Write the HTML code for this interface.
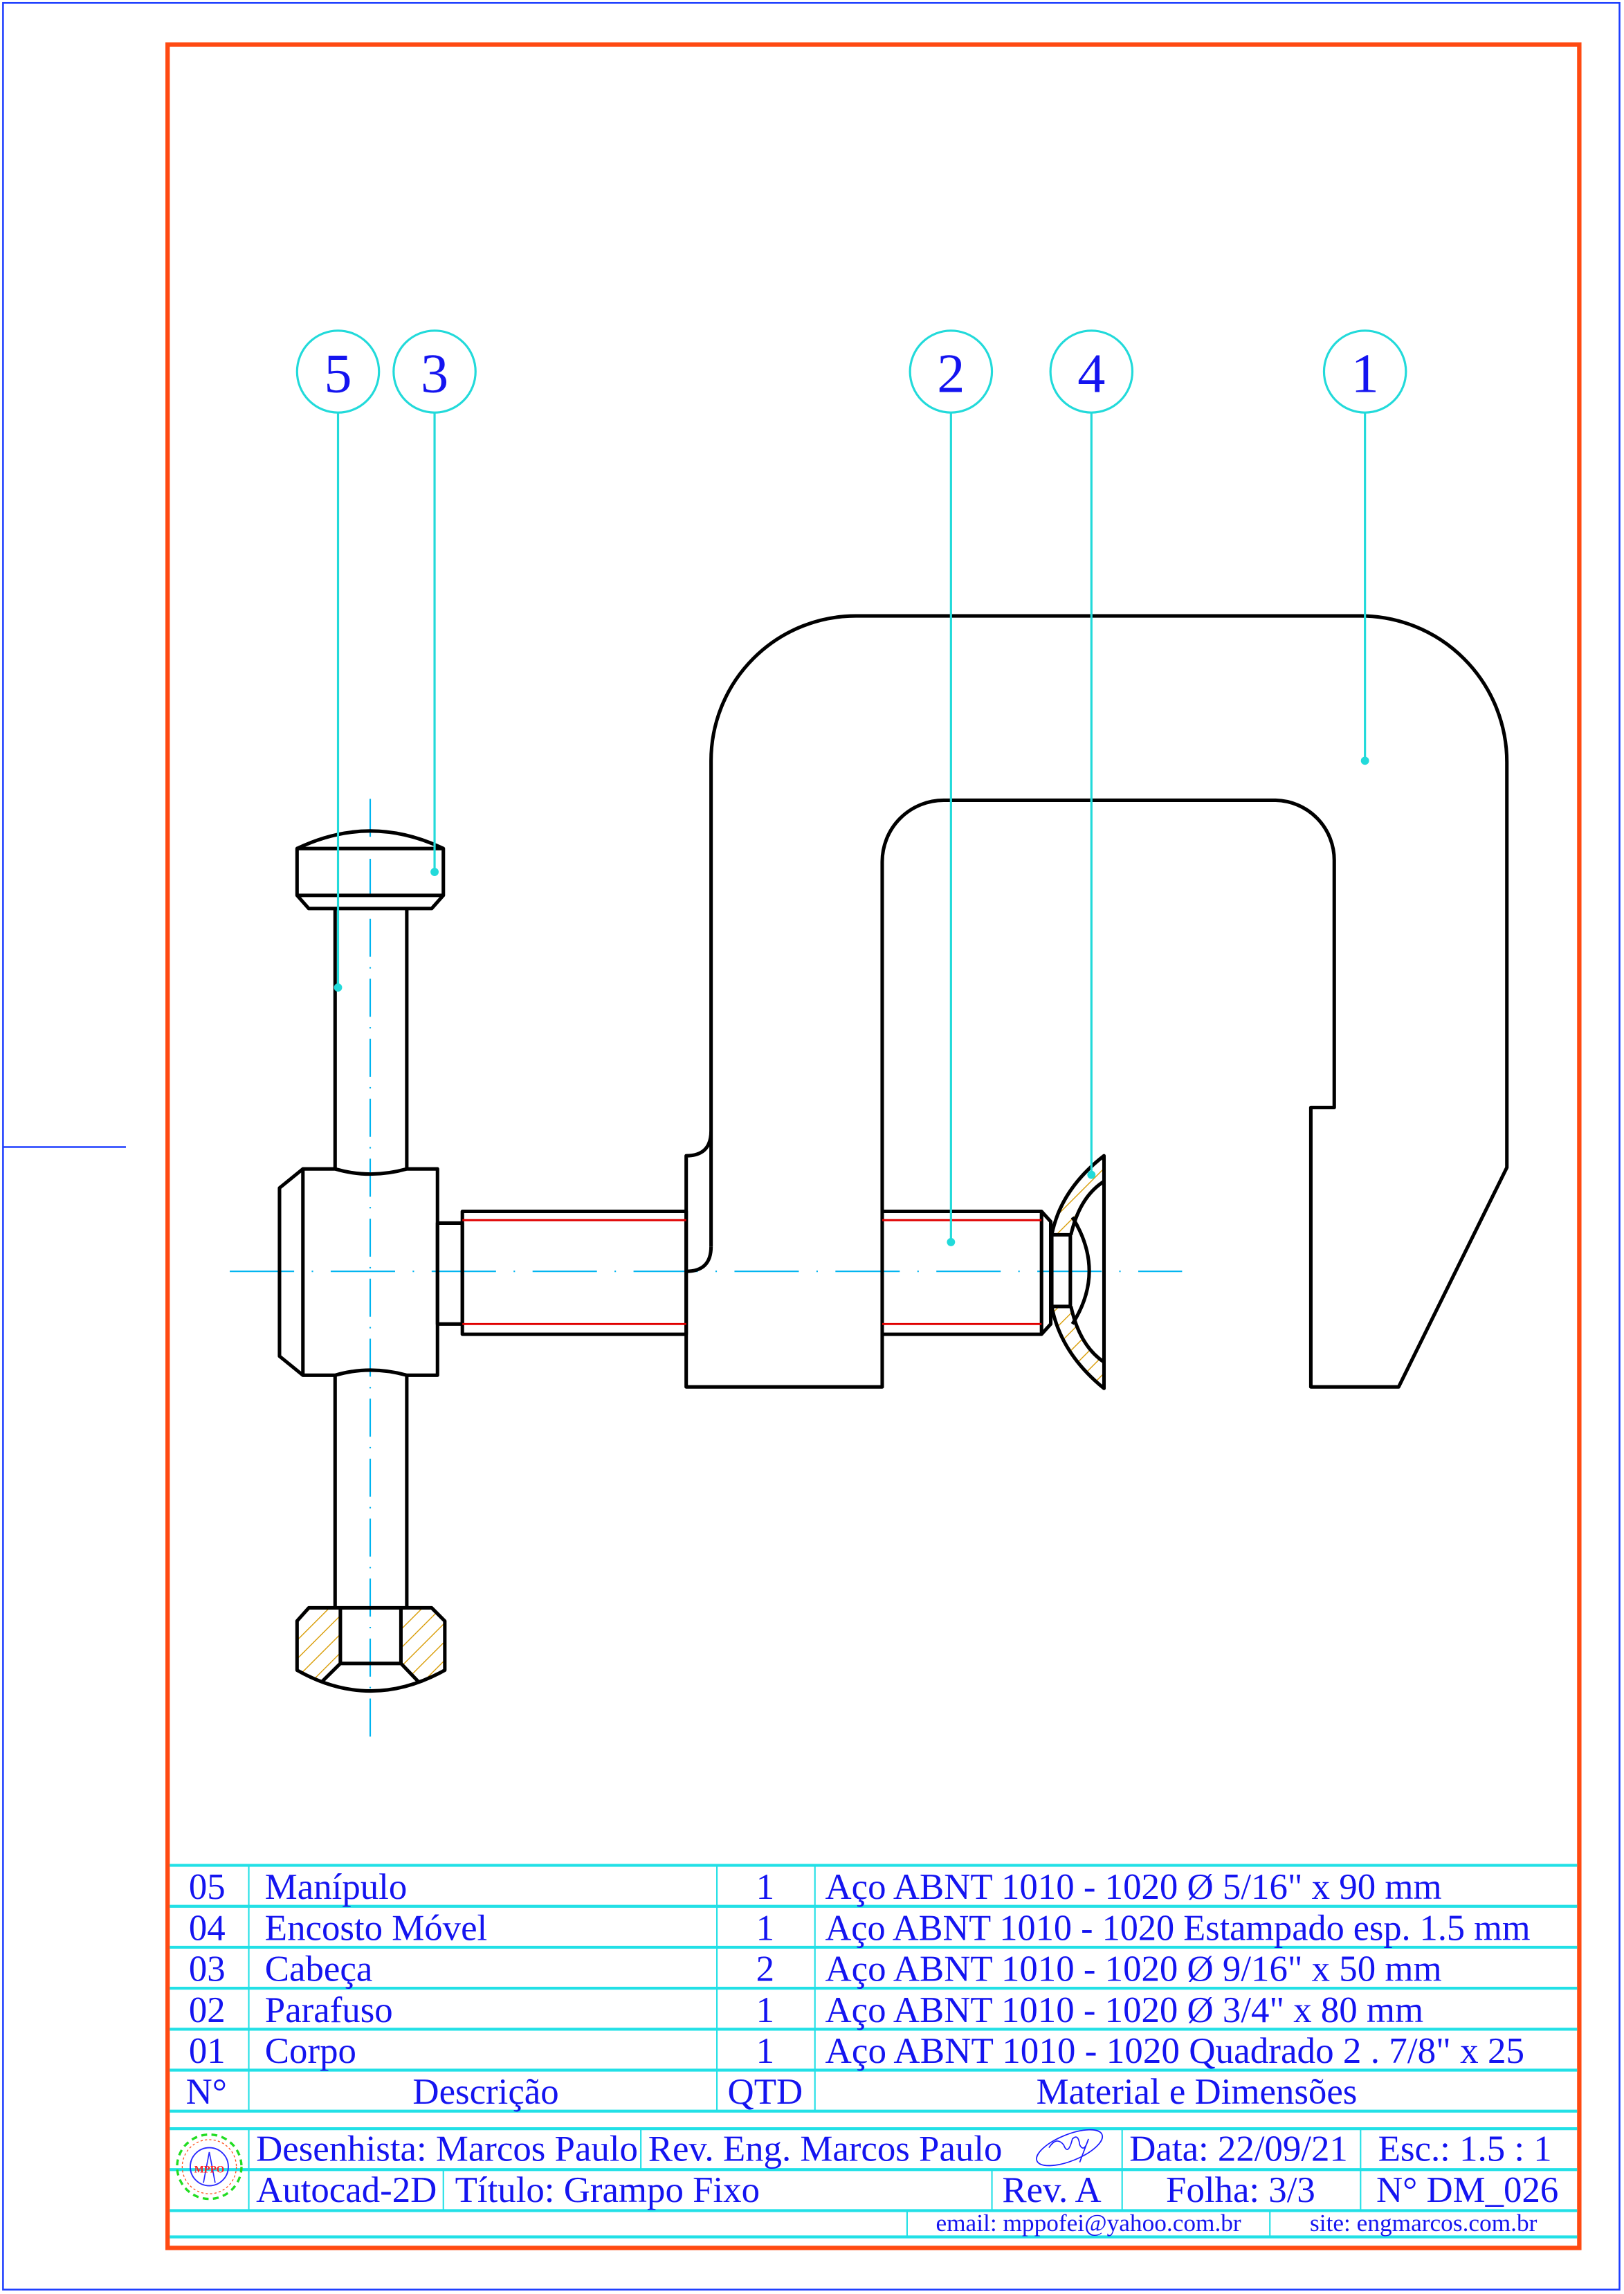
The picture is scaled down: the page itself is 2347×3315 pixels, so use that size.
<!DOCTYPE html>
<html><head><meta charset="utf-8"><style>
html,body{margin:0;padding:0;background:#fff;}
svg{display:block;}
text{font-family:"Liberation Serif",serif;fill:#1414f0;}
</style></head><body>
<svg width="2347" height="3315" viewBox="0 0 1110 1568" xmlns="http://www.w3.org/2000/svg">
<defs>
<pattern id="h" patternUnits="userSpaceOnUse" width="9" height="9" patternTransform="rotate(45)">
<line x1="0" y1="0" x2="0" y2="9" stroke="#d89a00" stroke-width="1.3"/>
</pattern>
</defs>
<rect x="0" y="0" width="1110" height="1568" fill="#fff"/>
<rect x="2" y="2" width="1105" height="1563" fill="none" stroke="#1f3fff" stroke-width="1.2"/>
<line x1="2" y1="784" x2="86" y2="784" stroke="#1f3fff" stroke-width="1.2"/>
<rect x="114.5" y="30.5" width="965" height="1506" fill="none" stroke="#ff4a12" stroke-width="3"/>

<g stroke="#00b4f0" stroke-width="1" fill="none">
<line x1="253" y1="546" x2="253" y2="1190" stroke-dasharray="26 7 1 7"/>
<line x1="157" y1="869" x2="808" y2="869" stroke-dasharray="44 12 1 12"/>
</g>

<g fill="url(#h)" stroke="none">
<path d="M203 1108 L211 1099 L232.6 1099 L232.6 1137 L220 1149.5 Q211 1146 203 1141.6 Z"/>
<path d="M274 1099 L295 1099 L304 1108 L304 1141.6 Q296 1146 286 1149.5 L274 1137 Z"/>
<path d="M718.9 844 Q725 813 754.6 790 L754.6 807.5 Q738 818 732 844 Z"/>
<path d="M718.9 893 L732 893 Q738 920 754.6 931 L754.6 949 Q725 925 718.9 893 Z"/>
</g>

<g stroke="#000" stroke-width="2.4" fill="none" stroke-linejoin="round">
<path d="M486 852 L486 520 A99 99 0 0 1 585 421 L930 421 A100 100 0 0 1 1030 521 L1030 798 L956 948 L896 948 L896 757 L912 757 L912 588 A41 41 0 0 0 872 547 L645 547 A42 42 0 0 0 603 589 L603 948 L469 948 L469 790 Q486 790 486 773"/>
<path d="M486 852 Q486 869 469 869"/>
<path d="M203 580 Q253 556 303 580"/>
<rect x="203" y="580" width="100" height="32"/>
<path d="M203 612 L211 621 L295 621 L303 612"/>
<line x1="229" y1="621" x2="229" y2="800"/>
<line x1="278" y1="621" x2="278" y2="800"/>
<line x1="229" y1="940" x2="229" y2="1099"/>
<line x1="278" y1="940" x2="278" y2="1099"/>
<path d="M207 799 L229 799 Q253 806 278 799 L299 799 L299 940 L278 940 Q253 933 229 940 L207 940 Z"/>
<path d="M207 799 L191 812 L191 927 L207 940"/>
<rect x="299" y="836" width="17" height="69"/>
<rect x="316" y="828" width="153" height="84"/>
<path d="M603 828 L711.9 828 L718.2 835 L718.2 905 L711.9 912 L603 912"/>
<line x1="711.9" y1="828" x2="711.9" y2="912"/>
<rect x="718.9" y="844" width="12.7" height="49"/>
<path d="M718.9 844 Q725 813 754.6 790 L754.6 949 Q725 925 718.9 893"/>
<path d="M732 844 Q738 818 754.6 807.5"/>
<path d="M732 893 Q738 920 754.6 931"/>
<path d="M733 832 Q756 869 733 905"/>
<path d="M211 1099 L295 1099 L304 1108 L304 1141.6 Q253 1170 203 1141.6 L203 1108 Z"/>
<path d="M232.6 1099 L232.6 1137 L274 1137 L274 1099"/>
<line x1="232.6" y1="1137" x2="220" y2="1149.5"/>
<line x1="274" y1="1137" x2="286" y2="1149.5"/>
</g>
<g stroke="#e00000" stroke-width="1.4">
<line x1="316" y1="834" x2="469" y2="834"/>
<line x1="316" y1="905" x2="469" y2="905"/>
<line x1="603" y1="834" x2="711.9" y2="834"/>
<line x1="603" y1="905" x2="711.9" y2="905"/>
</g>

<g stroke="#22dada" stroke-width="1.5" fill="none">
<circle cx="231" cy="254" r="28"/>
<circle cx="297" cy="254" r="28"/>
<circle cx="650" cy="254" r="28"/>
<circle cx="746" cy="254" r="28"/>
<circle cx="933" cy="254" r="28"/>
<line x1="231" y1="282" x2="231" y2="675"/>
<line x1="297" y1="282" x2="297" y2="596"/>
<line x1="650" y1="282" x2="650" y2="849"/>
<line x1="746" y1="282" x2="746" y2="803"/>
<line x1="933" y1="282" x2="933" y2="520"/>
</g>
<g fill="#22dada">
<circle cx="231" cy="675" r="2.8"/>
<circle cx="297" cy="596" r="2.8"/>
<circle cx="650" cy="849" r="2.8"/>
<circle cx="746" cy="803" r="2.8"/>
<circle cx="933" cy="520" r="2.8"/>
</g>
<g font-size="38" text-anchor="middle">
<text x="231" y="268">5</text>
<text x="297" y="268">3</text>
<text x="650" y="268">2</text>
<text x="746" y="268">4</text>
<text x="933" y="268">1</text>
</g>

<g stroke="#22e0e6" fill="none">
<g stroke-width="2">
<line x1="116" y1="1275" x2="1078" y2="1275"/>
<line x1="116" y1="1303" x2="1078" y2="1303"/>
<line x1="116" y1="1331" x2="1078" y2="1331"/>
<line x1="116" y1="1359" x2="1078" y2="1359"/>
<line x1="116" y1="1387" x2="1078" y2="1387"/>
<line x1="116" y1="1415" x2="1078" y2="1415"/>
<line x1="116" y1="1443" x2="1078" y2="1443"/>
<line x1="116" y1="1455" x2="1078" y2="1455"/>
<line x1="116" y1="1483" x2="1078" y2="1483"/>
<line x1="116" y1="1511" x2="1078" y2="1511"/>
<line x1="116" y1="1529" x2="1078" y2="1529"/>
</g>
<g stroke-width="1">
<line x1="170" y1="1275" x2="170" y2="1443"/>
<line x1="490" y1="1275" x2="490" y2="1443"/>
<line x1="557" y1="1275" x2="557" y2="1443"/>
<line x1="170" y1="1455" x2="170" y2="1511"/>
<line x1="438" y1="1455" x2="438" y2="1483"/>
<line x1="767" y1="1455" x2="767" y2="1511"/>
<line x1="930" y1="1455" x2="930" y2="1511"/>
<line x1="303" y1="1483" x2="303" y2="1511"/>
<line x1="678" y1="1483" x2="678" y2="1511"/>
<line x1="620" y1="1511" x2="620" y2="1529"/>
<line x1="868" y1="1511" x2="868" y2="1529"/>
</g>
</g>
<g font-size="25">
<text x="129" y="1298">05</text><text x="181" y="1298">Manípulo</text><text x="523" y="1298" text-anchor="middle">1</text><text x="564" y="1298">Aço ABNT 1010 - 1020  Ø 5/16" x 90 mm</text>
<text x="129" y="1326">04</text><text x="181" y="1326">Encosto Móvel</text><text x="523" y="1326" text-anchor="middle">1</text><text x="564" y="1326" textLength="482" lengthAdjust="spacingAndGlyphs">Aço ABNT 1010 - 1020 Estampado esp. 1.5 mm</text>
<text x="129" y="1354">03</text><text x="181" y="1354">Cabeça</text><text x="523" y="1354" text-anchor="middle">2</text><text x="564" y="1354">Aço ABNT 1010 - 1020 Ø 9/16" x 50 mm</text>
<text x="129" y="1382">02</text><text x="181" y="1382">Parafuso</text><text x="523" y="1382" text-anchor="middle">1</text><text x="564" y="1382">Aço ABNT 1010 - 1020  Ø 3/4" x 80 mm</text>
<text x="129" y="1410">01</text><text x="181" y="1410">Corpo</text><text x="523" y="1410" text-anchor="middle">1</text><text x="564" y="1410" textLength="478" lengthAdjust="spacingAndGlyphs">Aço ABNT 1010 - 1020  Quadrado 2 . 7/8" x 25</text>
<text x="127" y="1438">N°</text><text x="332" y="1438" text-anchor="middle">Descrição</text><text x="523" y="1438" text-anchor="middle">QTD</text><text x="818" y="1438" text-anchor="middle">Material e Dimensões</text>
<text x="175" y="1477">Desenhista: Marcos Paulo</text>
<text x="443" y="1477">Rev. Eng. Marcos Paulo</text>
<text x="772" y="1477">Data: 22/09/21</text>
<text x="942" y="1477">Esc.: 1.5 : 1</text>
<text x="175" y="1505">Autocad-2D</text>
<text x="311" y="1505">Título: Grampo Fixo</text>
<text x="685" y="1505">Rev. A</text>
<text x="848" y="1505" text-anchor="middle">Folha: 3/3</text>
<text x="1003" y="1505" text-anchor="middle">N° DM_026</text>
</g>
<g font-size="16.7" text-anchor="middle">
<text x="744" y="1525">email: mppofei@yahoo.com.br</text>
<text x="973" y="1525">site: engmarcos.com.br</text>
</g>
<g stroke="#1a1aff" stroke-width="0.8" fill="none">
<ellipse cx="731" cy="1468" rx="24" ry="9" transform="rotate(-22 731 1468)"/>
<path d="M717 1468 Q722 1460 727 1466 Q730 1474 733 1462 Q737 1458 738 1466 Q741 1472 744 1462 L738 1478"/>
</g>
<g transform="translate(143 1481)" fill="none">
<circle r="22" stroke="#22dd22" stroke-width="1.6" stroke-dasharray="4 3"/>
<circle r="18.5" stroke="#ff4a12" stroke-width="0.6" stroke-dasharray="1.5 1.5"/>
<circle r="13" stroke="#2a2aff" stroke-width="0.9"/>
<path d="M-4 11 L0 -10 L4 11" stroke="#2a2aff" stroke-width="0.8"/>
<text x="0" y="4" font-size="7" text-anchor="middle" style="fill:#ff2020;font-weight:bold">MPPO</text>
</g>
</svg>
</body></html>
